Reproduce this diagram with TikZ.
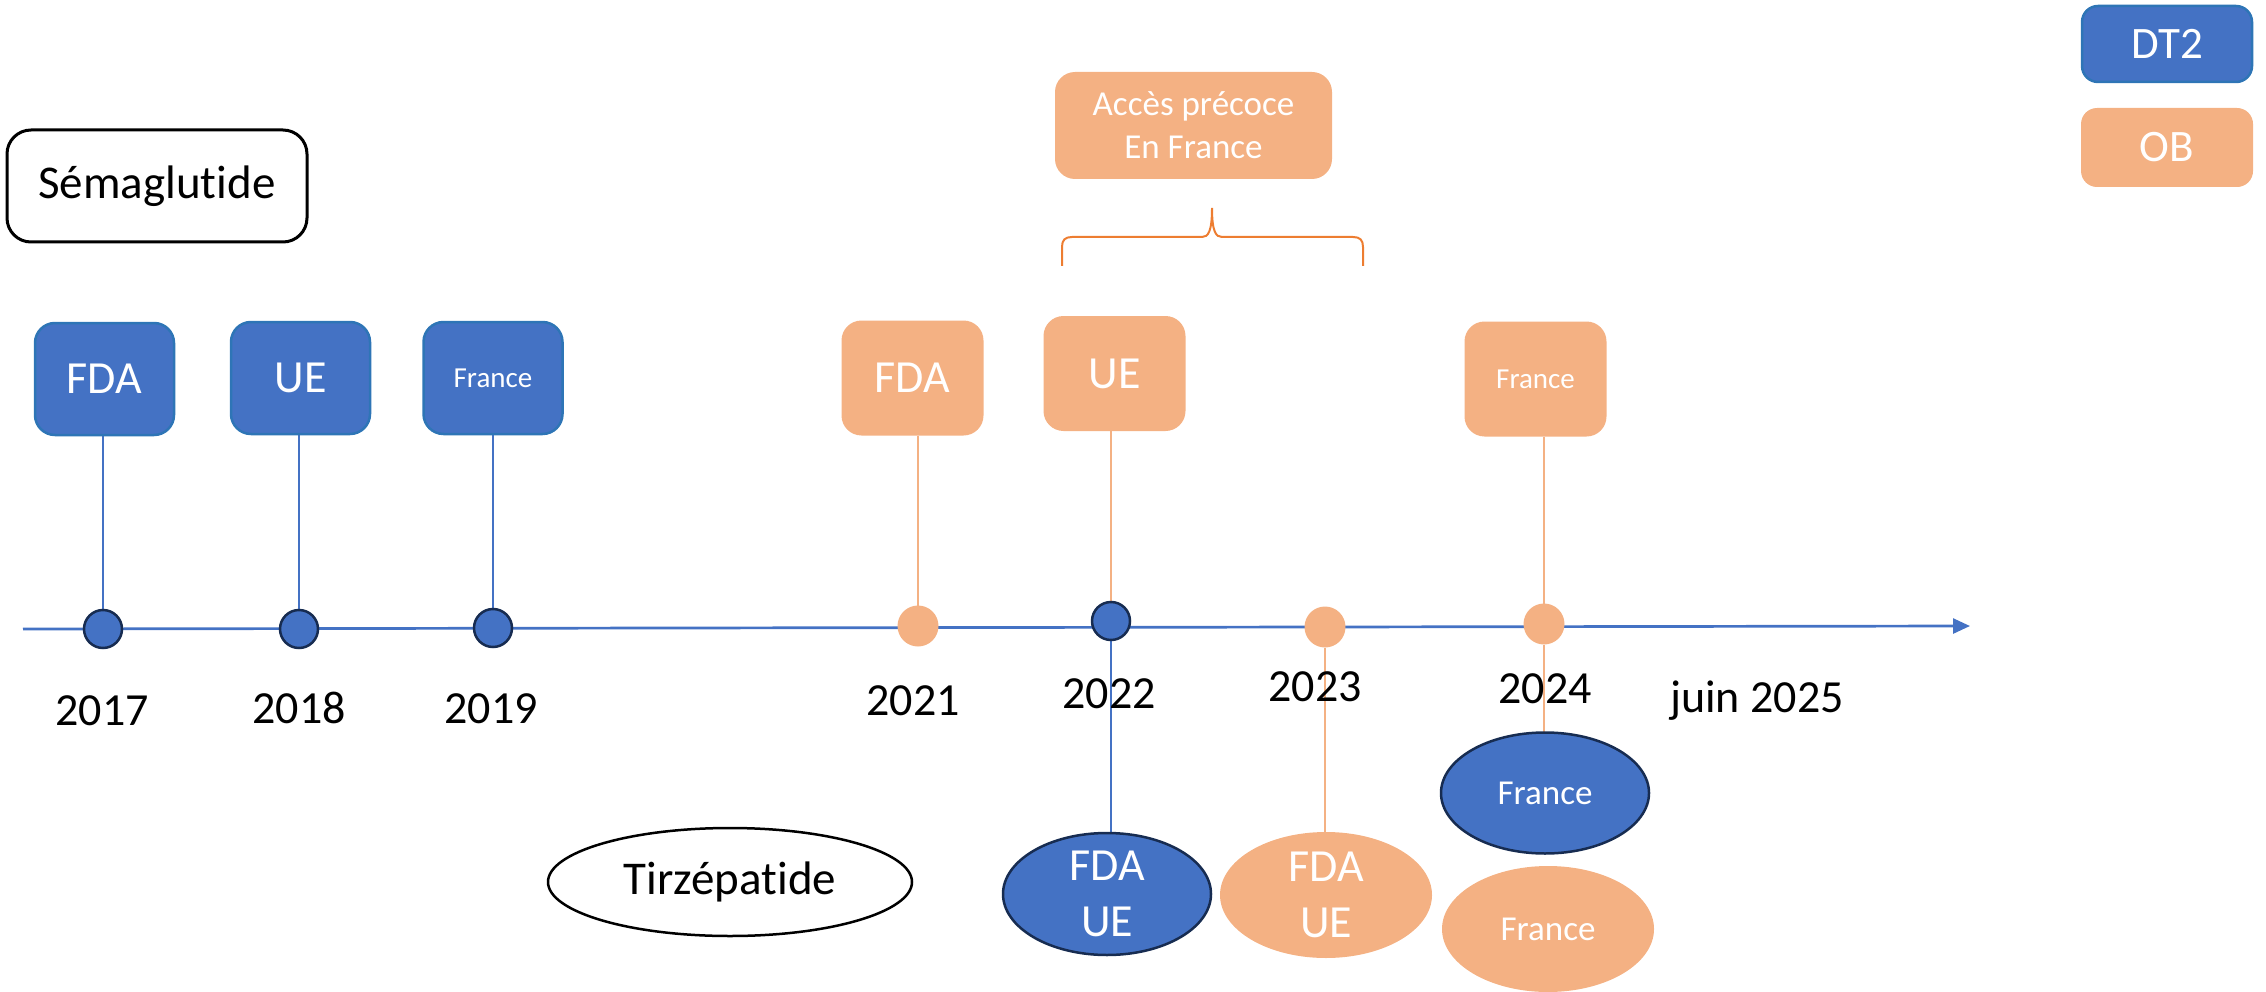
\documentclass[tikz,border=0pt]{standalone}
\usepackage{fontspec}
\setmainfont{Carlito}[Ligatures={NoCommon}]
\usetikzlibrary{shapes.geometric,arrows.meta,backgrounds}
\definecolor{bfill}{HTML}{4472C4}
\definecolor{bedge}{HTML}{2E75B6}
\definecolor{navy}{HTML}{172C51}
\definecolor{ofill}{HTML}{F4B183}
\definecolor{obrace}{HTML}{ED7D31}
\begin{document}
\begin{tikzpicture}[x=1pt,y=-1pt,
  fbig/.style={font=\fontsize{46}{56}\selectfont},
  fmid/.style={font=\fontsize{35}{43}\selectfont},
  fsmall/.style={font=\fontsize{29}{35}\selectfont},
  bbox/.style={rectangle,rounded corners=20pt,fill=bfill,draw=bedge,line width=2.5pt,text=white,inner sep=0pt,outer sep=0pt,minimum width=139pt,minimum height=112pt},
  obox/.style={rectangle,rounded corners=20pt,fill=ofill,text=white,inner sep=0pt,outer sep=0pt,minimum width=142pt,minimum height=115pt},
  bdot/.style={circle,fill=bfill,draw=navy,line width=2.5pt,inner sep=0pt,outer sep=0pt,minimum size=38pt},
  odot/.style={circle,fill=ofill,inner sep=0pt,outer sep=0pt,minimum size=41pt},
  bell/.style={ellipse,fill=bfill,draw=navy,line width=2.5pt,text=white,inner sep=0pt,outer sep=0pt,align=center},
  oell/.style={ellipse,fill=ofill,text=white,inner sep=0pt,outer sep=0pt,align=center},
  year/.style={fbig,anchor=base,inner sep=0pt,text=black},
  bline/.style={draw=bfill,line width=1.6pt},
  oline/.style={draw=ofill,line width=1.6pt},
  timeline/.style={draw=bfill,line width=2.7pt,-{Triangle[length=17pt,width=15pt]}},
  bracepath/.style={draw=obrace,line width=2pt}
]
\useasboundingbox (0,0) rectangle (2266,992);

% titles
\node[rectangle,rounded corners=24pt,draw=black,line width=3pt,minimum width=300pt,minimum height=112pt,inner sep=0pt,font=\fontsize{47}{56}\selectfont] (sema) at (157,186) {Sémaglutide};
\node[ellipse,draw=black,line width=2.5pt,minimum width=364pt,minimum height=108pt,inner sep=0pt,font=\fontsize{47}{56}\selectfont] (tirz) at (730,882) {Tirzépatide};

% legend
\node[bbox,minimum width=170pt,minimum height=76pt,rounded corners=16pt,font=\fontsize{45}{54}\selectfont] (dt2) at (2167,44) {DT2};
\node[obox,minimum width=172pt,minimum height=79pt,rounded corners=16pt,font=\fontsize{45}{54}\selectfont] (ob) at (2167,147.5) {OB};

% semaglutide DT2 boxes
\node[bbox,fbig] (bFDA) at (104.5,379) {FDA};
\node[bbox,fbig] (bUE) at (300.5,378) {UE};
\node[bbox,fsmall] (bFR) at (493,378) {France};

% semaglutide OB boxes
\node[obox,fbig] (oFDA) at (912.5,378) {FDA};
\node[obox,fbig] (oUE) at (1114.5,373.5) {UE};
\node[obox,fsmall] (oFR) at (1535.5,379) {France};

% early access
\node[obox,fmid,minimum width=277pt,minimum height=107pt,align=center] (acces) at (1193.5,125.5) {Accès précoce\\En France};

% timeline points
\node[bdot] (c2017) at (103,629) {};
\node[bdot] (c2018) at (299,629) {};
\node[bdot] (c2019) at (493,628) {};
\node[odot] (c2021) at (918,626) {};
\node[bdot] (c2022) at (1111,621) {};
\node[odot] (c2023) at (1325,627) {};
\node[odot] (c2024) at (1544,624) {};

% tirzepatide ellipses
\node[bell,fbig,minimum width=208pt,minimum height=122pt] (tBFU) at (1107,894) {FDA\\UE};
\node[oell,fbig,minimum width=212pt,minimum height=126pt] (tOFU) at (1326,895) {FDA\\UE};
\node[bell,fmid,minimum width=208pt,minimum height=121pt] (tBFR) at (1545,793) {France};
\node[oell,fmid,minimum width=212pt,minimum height=126pt] (tOFR) at (1548,929) {France};

% year labels
\node[year] (y2017) at (102,725) {2017};
\node[year] (y2018) at (299,723) {2018};
\node[year] (y2019) at (491,723) {2019};
\node[year] (y2021) at (913,715) {2021};
\node[year] (y2022) at (1109,708) {2022};
\node[year] (y2023) at (1315,701) {2023};
\node[year] (y2024) at (1545,703) {2024};
\node[year] (y2025) at (1757,712) {juin 2025};

\coordinate (tlS) at (23,629);
\coordinate (tlE) at (1970,626);

\begin{pgfonlayer}{background}
\draw[timeline] (tlS) -- (tlE);
\draw[bline] (c2017 |- bFDA.south) -- (c2017);
\draw[bline] (c2018 |- bUE.south) -- (c2018);
\draw[bline] (c2019 |- bFR.south) -- (c2019);
\draw[oline] (c2021 |- oFDA.south) -- (c2021);
\draw[oline] (c2022 |- oUE.south) -- (c2022);
\draw[bline] (c2022) -- (c2022 |- tBFU.north);
\draw[oline] (c2023) -- (c2023 |- tOFU.north);
\draw[oline] (c2024 |- oFR.south) -- (c2024);
\draw[oline] (c2024) -- (c2024 |- tBFR.north);
\end{pgfonlayer}

% brace
\draw[bracepath] (1062,266) -- (1062,247) .. controls (1062,240) and (1065,237) .. (1072,237) -- (1202,237) .. controls (1208,237) and (1212,232) .. (1212,208) .. controls (1212,232) and (1216,237) .. (1222,237) -- (1353,237) .. controls (1360,237) and (1363,240) .. (1363,247) -- (1363,266);
\end{tikzpicture}
\end{document}
